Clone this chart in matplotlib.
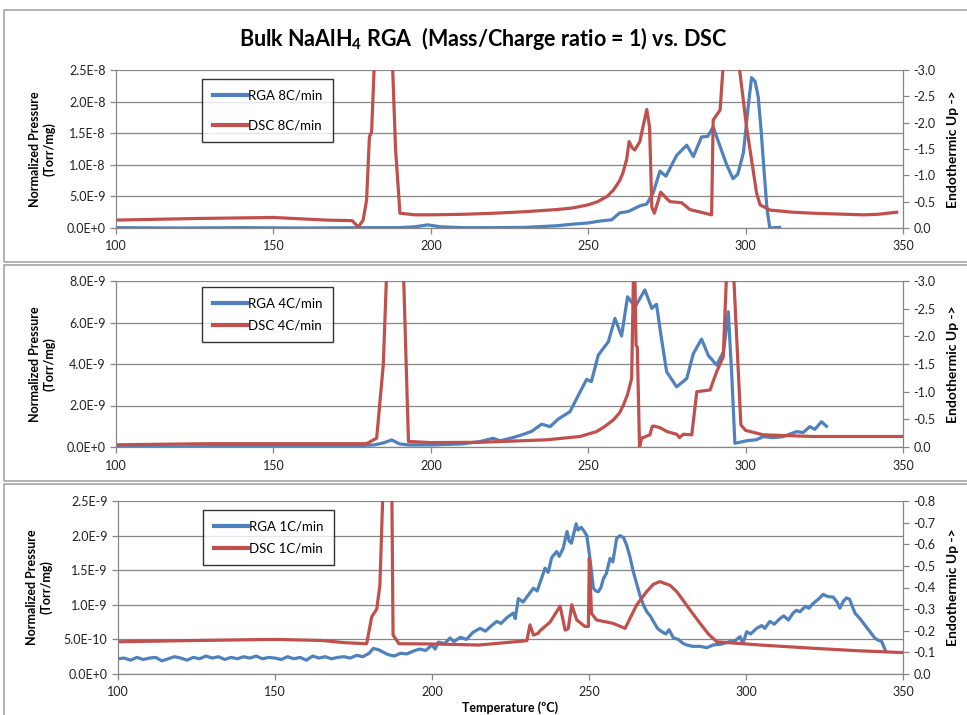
import numpy as np
import matplotlib
matplotlib.use("Agg")
import matplotlib.pyplot as plt
from matplotlib.ticker import FuncFormatter, MultipleLocator
from matplotlib.lines import Line2D

plt.rcParams['font.family'] = ['Lato', 'DejaVu Sans']

BLUE = '#4F81BD'
RED = '#C0504D'
GRID = '#868686'

# ---- 8 C/min ----
t_rga8 = [100, 120, 140, 160, 180, 190, 195, 199, 203, 210, 220, 230, 240, 245, 250, 253.7, 257.5, 260,
          262.7, 266.4, 268.6, 270.6, 272.8, 274.7, 278.1, 281.3, 283.4, 286, 288, 289.7, 291.9, 294, 296,
          297.5, 299.3, 301, 301.9, 303, 304, 305, 305.6, 306.8, 307.7, 310.8]
rga8 = [0.05, 0.0, 0.05, 0.0, 0.05, 0.05, 0.2, 0.5, 0.2, 0.05, 0.05, 0.1, 0.36, 0.6, 0.8, 1.1, 1.3, 2.4,
        2.6, 3.5, 3.8, 5.5, 9.0, 8.2, 11.5, 13.1, 11.3, 14.4, 14.5, 16.0, 12.9, 10.0, 7.8,
        8.5, 11.9, 20.0, 23.8, 23.2, 20.8, 15.0, 10.8, 3.0, 0.0, 0.1]
t_dsc8 = [100, 125, 150, 167, 175, 177, 178.5, 179.6, 180.5, 181.2, 182.3, 183.5, 185, 186.5, 187.6, 188.8,
          190.2, 195, 200, 210, 220, 230, 240, 245, 250, 253, 256, 258, 260, 261, 262.2, 263, 264, 264.8,
          266.4, 267.5, 268.6, 269.5, 270.2, 271, 272.3, 273, 274, 274.9, 276, 279.7, 282.3, 289.2, 289.7,
          291.9, 293, 295, 297.5, 300.3, 303.5, 304.6, 307.8, 315, 321.5, 337.4, 342, 348]
dsc8 = [-0.15, -0.18, -0.2, -0.15, -0.14, -0.02, -0.15, -0.53, -1.73, -1.83, -3.5, -5, -5.5, -5, -3.5, -1.5,
        -0.28, -0.25, -0.25, -0.26, -0.28, -0.31, -0.35, -0.38, -0.44, -0.5, -0.6, -0.72, -0.9, -1.04, -1.3,
        -1.64, -1.52, -1.48, -1.64, -1.95, -2.25, -1.92, -0.40, -0.28, -0.53, -0.68, -0.62, -0.56, -0.5,
        -0.48, -0.35, -0.25, -2.05, -2.24, -3.2, -5, -3.3, -1.92, -0.66, -0.44, -0.34, -0.3, -0.28, -0.25,
        -0.26, -0.30]

# ---- 4 C/min ----
t_rga4 = [100, 120, 140, 160, 175, 182, 185, 187.6, 190, 193, 200, 210, 215.6, 219.8, 222, 226, 229.4, 232,
          235.2, 237.9, 240.5, 244.2, 246.9, 249.5, 251, 253.2, 256.4, 258.5, 260.6, 262.5, 264.9, 268, 270.2,
          271.7, 273, 274.9, 278.1, 281.3, 283.4, 286, 288.2, 290.8, 293, 294.5, 295.6, 296.6, 300.3, 303.4,
          305.6, 308.7, 311.9, 316.2, 318.3, 320.4, 322, 324.1, 325.7]
rga4 = [0.05, 0.0, 0.05, 0.05, 0.05, 0.1, 0.2, 0.34, 0.15, 0.1, 0.1, 0.15, 0.26, 0.42, 0.3, 0.45, 0.61, 0.75,
        1.1, 0.98, 1.35, 1.7, 2.5, 3.26, 3.15, 4.43, 5.07, 6.2, 5.35, 7.24, 6.76, 7.57, 6.68,
        6.88, 5.5, 3.63, 2.9, 3.3, 4.5, 5.2, 4.4, 3.95, 4.6, 6.52, 3.47, 0.18, 0.3, 0.35,
        0.5, 0.45, 0.5, 0.74, 0.7, 0.98, 0.85, 1.22, 1.0]
t_dsc4 = [100, 130, 160, 179.6, 182.8, 184.9, 186, 188, 190, 191.3, 192.9, 200, 215.6, 236.8, 247.4, 252.7,
          255, 258, 260, 261.2, 262.5, 263.8, 264.4, 264.8, 265.2, 265.6, 266.3, 267, 269.6, 270.3, 270.8,
          272.8, 275, 278.1, 279, 280.2, 282.9, 284.5, 288.7, 290.8, 292.9, 294, 295, 296.3, 298.5, 300,
          305.6, 321.5, 350]
dsc4 = [-0.04, -0.06, -0.06, -0.06, -0.16, -1.48, -3.2, -5, -4.5, -3.2, -0.1, -0.08, -0.085, -0.13, -0.19, -0.28,
        -0.36, -0.49, -0.62, -0.76, -0.95, -1.24, -3.2, -3.2, -1.84, -1.8, 0.0, -0.16, -0.22, -0.37, -0.38,
        -0.35, -0.28, -0.23, -0.17, -0.23, -0.22, -1.0, -1.03, -1.36, -1.63, -3.2, -5, -3.0, -0.4, -0.3,
        -0.22, -0.19, -0.19]

# ---- 1 C/min ----
t_rga1 = [100, 102, 104, 106, 108, 110, 112, 114, 116, 118, 120, 122, 124, 126, 128, 130, 132, 134, 136, 138,
          140, 142, 144, 146, 148, 150, 152, 154, 156, 158, 160, 162, 164, 166, 168, 170, 172, 174, 176, 178,
          180, 181.3, 183, 186, 188, 190, 192, 194, 196, 198, 200, 201, 202, 204, 205.7, 207, 209, 211, 213,
          215.3, 217, 219, 220.6, 222, 224, 225.9, 226.5, 227.5, 229, 230.5, 232.3, 233.5, 235, 236, 237,
          238.1, 239.7, 240.5, 241.8, 243, 243.7, 244.4, 245.9, 246.5, 247.5, 248.5, 249.3, 250.3, 251.4,
          252.2, 253, 253.8, 254.6, 255.5, 256.7, 257.6, 258.8, 259.9, 261, 262, 263, 264.1, 265.2, 266.2,
          267.3, 268.4, 269.5, 270.5, 271.8, 273.2, 274.5, 275.5, 276.9, 278.5, 280, 281.1, 283, 285.4, 287.5,
          289.6, 292, 294.9, 296.5, 298.1, 299, 300.2, 301.5, 303.4, 305, 306, 307.6, 309, 310.8, 312, 313.5,
          315, 316, 317.2, 319, 320, 321.4, 323, 324.6, 326, 327.8, 329, 329.9, 331, 332, 333, 334.7, 336.3,
          338, 339.5, 341, 342, 343.2, 344.3]
rga1 = [0.22, 0.23, 0.20, 0.24, 0.21, 0.23, 0.24, 0.19, 0.22, 0.25, 0.23, 0.20, 0.24, 0.22, 0.26, 0.23, 0.25,
        0.21, 0.24, 0.22, 0.25, 0.23, 0.26, 0.22, 0.24, 0.23, 0.21, 0.25, 0.22, 0.24, 0.20, 0.26, 0.23, 0.25,
        0.22, 0.24, 0.25, 0.23, 0.27, 0.25,
        0.30, 0.37, 0.35, 0.28, 0.26, 0.30, 0.29, 0.33, 0.36, 0.34, 0.42, 0.36, 0.46, 0.44, 0.52, 0.47, 0.53,
        0.50, 0.60, 0.66, 0.62, 0.70, 0.76, 0.73, 0.82, 0.88, 0.80, 1.09, 1.04, 1.13, 1.24, 1.20, 1.40, 1.53,
        1.47, 1.68, 1.77, 1.70, 1.82, 2.06, 1.92, 1.89, 2.17, 2.08, 2.12, 2.06, 2.00, 1.67, 1.24, 1.20, 1.19,
        1.25, 1.38, 1.45, 1.67, 1.62, 1.96, 2.00, 1.97, 1.86, 1.70, 1.48, 1.30, 1.14, 1.00, 0.90, 0.84, 0.76,
        0.66, 0.61, 0.58, 0.64, 0.52, 0.50, 0.44, 0.42, 0.40, 0.40, 0.38, 0.42, 0.43, 0.47, 0.48, 0.54, 0.44,
        0.61, 0.58, 0.66, 0.70, 0.66, 0.76, 0.72, 0.80, 0.84, 0.78, 0.88, 0.92, 0.90, 0.98, 0.95, 1.02, 1.08,
        1.15, 1.12, 1.11, 1.04, 0.95, 1.05, 1.10, 1.08, 0.88, 0.80, 0.70, 0.61, 0.52, 0.49, 0.47, 0.35]
t_dsc1 = [100, 125, 150, 165, 172, 179.2, 180.8, 182.4, 183.4, 184.5, 185.5, 187.0, 187.6, 189.5, 200, 215,
          230.2, 231.2, 232.3, 233.8, 234.4, 237.6, 240.8, 242.4, 243.4, 244.5, 246.1, 248.7, 249.8, 250.1,
          250.8, 252.4, 257.7, 261.5, 263.5, 265.2, 268.3, 270.5, 272.6, 275.8, 278, 280, 282.5, 285.4, 288,
          290.7, 304.5, 321.4, 335, 350]
dsc1 = [-0.149, -0.155, -0.16, -0.155, -0.145, -0.14, -0.265, -0.30, -0.41, -0.9, -1.2, -1.2, -0.18, -0.14,
        -0.139, -0.134, -0.154, -0.227, -0.18, -0.188, -0.2, -0.24, -0.314, -0.203, -0.21, -0.32, -0.25,
        -0.22, -0.22, -0.535, -0.28, -0.25, -0.234, -0.211, -0.27, -0.32, -0.38, -0.415, -0.427, -0.41,
        -0.38, -0.34, -0.29, -0.234, -0.185, -0.149, -0.134, -0.119, -0.108, -0.099]


def sci_fmt(v, pos):
    if abs(v) < 1e-15:
        return "0.0E+0"
    e = int(np.floor(np.log10(abs(v)) + 1e-9))
    return f"{v / 10**e:.1f}E{e}"


def right_fmt(v, pos):
    return f"{v + 0.0:.1f}"


fig = plt.figure(figsize=(9.67, 7.15), dpi=100)
W, H = 967.0, 715.0

# chart frames
for y0, y1 in [(10, 262), (265, 481), (484, 716)]:
    fig.add_artist(plt.Rectangle((4 / W, 1 - y1 / H), 1.0, (y1 - y0) / H, transform=fig.transFigure,
                                 fill=False, edgecolor='#A6A6A6', lw=1.2))

fig.text(0.5, 1 - 38 / H, r"Bulk NaAlH$_\mathregular{4}$ RGA  (Mass/Charge ratio = 1) vs. DSC",
         ha='center', va='center', fontsize=15.5, fontweight='bold')

panels = [
    dict(px=(116, 903), py=(70, 228), t_r=t_rga8, r=rga8, t_d=t_dsc8, d=dsc8, ymax=2.5e-8, ystep=5e-9,
         rmax=-3.0, rstep=0.5, rate="8C/min", leg=(202, 79), ls=1.35),
    dict(px=(116, 903), py=(281, 447), t_r=t_rga4, r=rga4, t_d=t_dsc4, d=dsc4, ymax=8e-9, ystep=2e-9,
         rmax=-3.0, rstep=0.5, rate="4C/min", leg=(202, 287), ls=0.75),
    dict(px=(118, 903), py=(501, 674), t_r=t_rga1, r=rga1, t_d=t_dsc1, d=dsc1, ymax=2.5e-9, ystep=5e-10,
         rmax=-0.8, rstep=0.1, rate="1C/min", leg=(203, 510), ls=0.75),
]

for i, p in enumerate(panels):
    x0, x1 = p['px']
    y0, y1 = p['py']
    ax = fig.add_axes([x0 / W, 1 - y1 / H, (x1 - x0) / W, (y1 - y0) / H])
    ax2 = ax.twinx()

    ax.plot(p['t_r'], np.array(p['r']) * 1e-9, color=BLUE, lw=2.3, solid_joinstyle='round')
    ax2.plot(p['t_d'], p['d'], color=RED, lw=2.3, solid_joinstyle='round')

    ax.set_xlim(100, 350)
    ax.set_ylim(0, p['ymax'])
    ax2.set_ylim(0, p['rmax'])
    ax.xaxis.set_major_locator(MultipleLocator(50))
    ax.yaxis.set_major_locator(MultipleLocator(p['ystep']))
    ax2.yaxis.set_major_locator(MultipleLocator(p['rstep']))
    ax.yaxis.set_major_formatter(FuncFormatter(sci_fmt))
    ax2.yaxis.set_major_formatter(FuncFormatter(right_fmt))

    ax.yaxis.grid(True, color=GRID, lw=0.9)
    ax.set_axisbelow(True)
    for a in (ax, ax2):
        a.spines['top'].set_visible(False)
        for s in ('left', 'right', 'bottom'):
            a.spines[s].set_color(GRID)
        a.tick_params(colors=GRID, labelcolor='#222222', labelsize=9, length=4, width=0.9)
    ax.tick_params(axis='x', pad=5)

    ax.set_ylabel("Normalized Pressure\n(Torr/mg)", fontsize=9, fontweight='bold', labelpad=8)
    ax2.set_ylabel("Endothermic Up ->", fontsize=10, fontweight='bold', labelpad=8)

    handles = [Line2D([], [], color=BLUE, lw=3), Line2D([], [], color=RED, lw=3)]
    lx, ly = p['leg']
    leg = ax2.legend(handles, ["RGA " + p['rate'], "DSC " + p['rate']], loc='upper left',
                     bbox_to_anchor=((lx - x0) / (x1 - x0), (y1 - ly) / (y1 - y0)),
                     fontsize=9.5, frameon=True, fancybox=False, edgecolor='black',
                     handlelength=2.6, handletextpad=0.1, labelspacing=p['ls'], borderpad=0.8,
                     borderaxespad=0)
    leg.get_frame().set_linewidth(1.0)

    if i == 2:
        ax.set_xlabel("Temperature (ºC)", fontsize=9, fontweight='bold', labelpad=2)

fig.savefig("out.png", dpi=100)
